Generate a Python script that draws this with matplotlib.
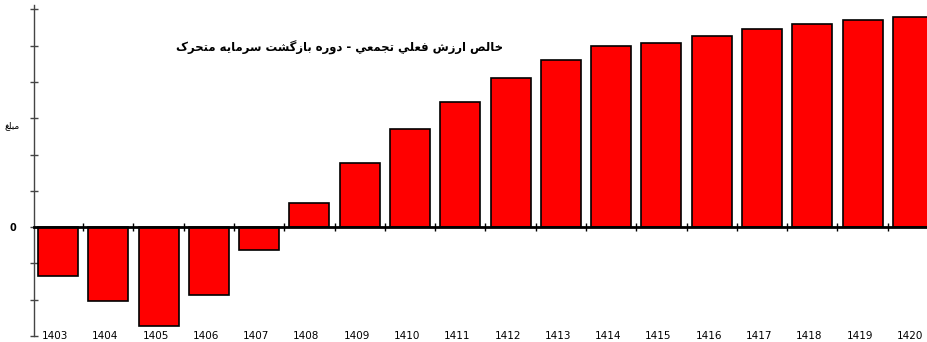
import matplotlib
matplotlib.use("Agg")
import matplotlib.pyplot as plt
import matplotlib.transforms as mtransforms

# cumulative NPV per year (one unit = one y tick step)
years = ["1403", "1404", "1405", "1406", "1407", "1408", "1409", "1410", "1411",
         "1412", "1413", "1414", "1415", "1416", "1417", "1418", "1419", "1420"]
npv = [-1.34, -2.03, -2.73, -1.86, -0.64, 0.67, 1.78, 2.70, 3.46,
       4.10, 4.60, 5.00, 5.08, 5.26, 5.45, 5.60, 5.71, 5.80]

chart_title = "خالص ارزش فعلي تجمعي - دوره بازگشت سرمايه متحرک"
y_title = "مبلغ"

# presentation forms: isolated, final, initial, medial
FORMS = {
    "\u0627": ("\uFE8D", "\uFE8E", None, None),
    "\u0628": ("\uFE8F", "\uFE90", "\uFE91", "\uFE92"),
    "\u062A": ("\uFE95", "\uFE96", "\uFE97", "\uFE98"),
    "\u062C": ("\uFE9D", "\uFE9E", "\uFE9F", "\uFEA0"),
    "\u062D": ("\uFEA1", "\uFEA2", "\uFEA3", "\uFEA4"),
    "\u062E": ("\uFEA5", "\uFEA6", "\uFEA7", "\uFEA8"),
    "\u062F": ("\uFEA9", "\uFEAA", None, None),
    "\u0631": ("\uFEAD", "\uFEAE", None, None),
    "\u0632": ("\uFEAF", "\uFEB0", None, None),
    "\u0633": ("\uFEB1", "\uFEB2", "\uFEB3", "\uFEB4"),
    "\u0634": ("\uFEB5", "\uFEB6", "\uFEB7", "\uFEB8"),
    "\u0635": ("\uFEB9", "\uFEBA", "\uFEBB", "\uFEBC"),
    "\u0639": ("\uFEC9", "\uFECA", "\uFECB", "\uFECC"),
    "\u063A": ("\uFECD", "\uFECE", "\uFECF", "\uFED0"),
    "\u0641": ("\uFED1", "\uFED2", "\uFED3", "\uFED4"),
    "\u0644": ("\uFEDD", "\uFEDE", "\uFEDF", "\uFEE0"),
    "\u0645": ("\uFEE1", "\uFEE2", "\uFEE3", "\uFEE4"),
    "\u0647": ("\uFEE9", "\uFEEA", "\uFEEB", "\uFEEC"),
    "\u0648": ("\uFEED", "\uFEEE", None, None),
    "\u064A": ("\uFEF1", "\uFEF2", "\uFEF3", "\uFEF4"),
    "\u06A9": ("\uFB8E", "\uFB8F", "\uFB90", "\uFB91"),
    "\u06AF": ("\uFB92", "\uFB93", "\uFB94", "\uFB95"),
}


def shape_rtl(text):
    out = []
    for i, ch in enumerate(text):
        if ch not in FORMS:
            out.append(ch)
            continue
        prev = text[i - 1] if i > 0 else ""
        nxt = text[i + 1] if i + 1 < len(text) else ""
        join_prev = prev in FORMS and FORMS[prev][2] is not None
        join_next = nxt in FORMS and FORMS[ch][2] is not None
        iso, fin, ini, med = FORMS[ch]
        if join_prev and join_next:
            out.append(med)
        elif join_prev:
            out.append(fin)
        elif join_next:
            out.append(ini)
        else:
            out.append(iso)
    return "".join(reversed(out))


fig = plt.figure(figsize=(9.28, 3.42), dpi=100)
ax = fig.add_axes([34 / 928, 6 / 342, 1 - 34 / 928, 331 / 342])

x = list(range(len(years)))
ax.bar(x, npv, width=0.795, color="#ff0000", edgecolor="black", linewidth=1.2, zorder=2)

ax.set_xlim(-0.477, 17.3)
ax.set_ylim(-3.0, 6.12)

for side in ("top", "right"):
    ax.spines[side].set_visible(False)
ax.spines["left"].set_color("#444444")
ax.spines["left"].set_linewidth(1.0)
ax.spines["bottom"].set_position(("data", 0))
ax.spines["bottom"].set_linewidth(2.0)
ax.spines["bottom"].set_zorder(3)

ax.set_xticks([i + 0.5 for i in x[:-1]])
ax.set_xticklabels([])
ax.tick_params(axis="x", direction="inout", length=6, width=1, color="black")

yt = list(range(-3, 7))
ax.set_yticks(yt)
ax.set_yticklabels(["0" if v == 0 else "" for v in yt], fontsize=7, fontweight="bold")
ax.tick_params(axis="y", direction="inout", length=6, width=1, color="#444444", pad=10)

trans = mtransforms.blended_transform_factory(ax.transData, ax.transAxes)
for i, lab in enumerate(years):
    ax.text(i - 0.06, 0.0, lab, transform=trans, ha="center", va="center",
            fontsize=7.5, family="DejaVu Sans")

ax.text(340 / 928, (342 - 48) / 342, shape_rtl(chart_title), transform=fig.transFigure,
        ha="center", va="center", fontsize=8.4, fontweight="bold", family=["DejaVu Sans"])
fig.text(12 / 928, (342 - 126) / 342, shape_rtl(y_title), ha="center", va="center",
         fontsize=6.5, family=["DejaVu Sans"])

fig.savefig("out.png", dpi=100)
